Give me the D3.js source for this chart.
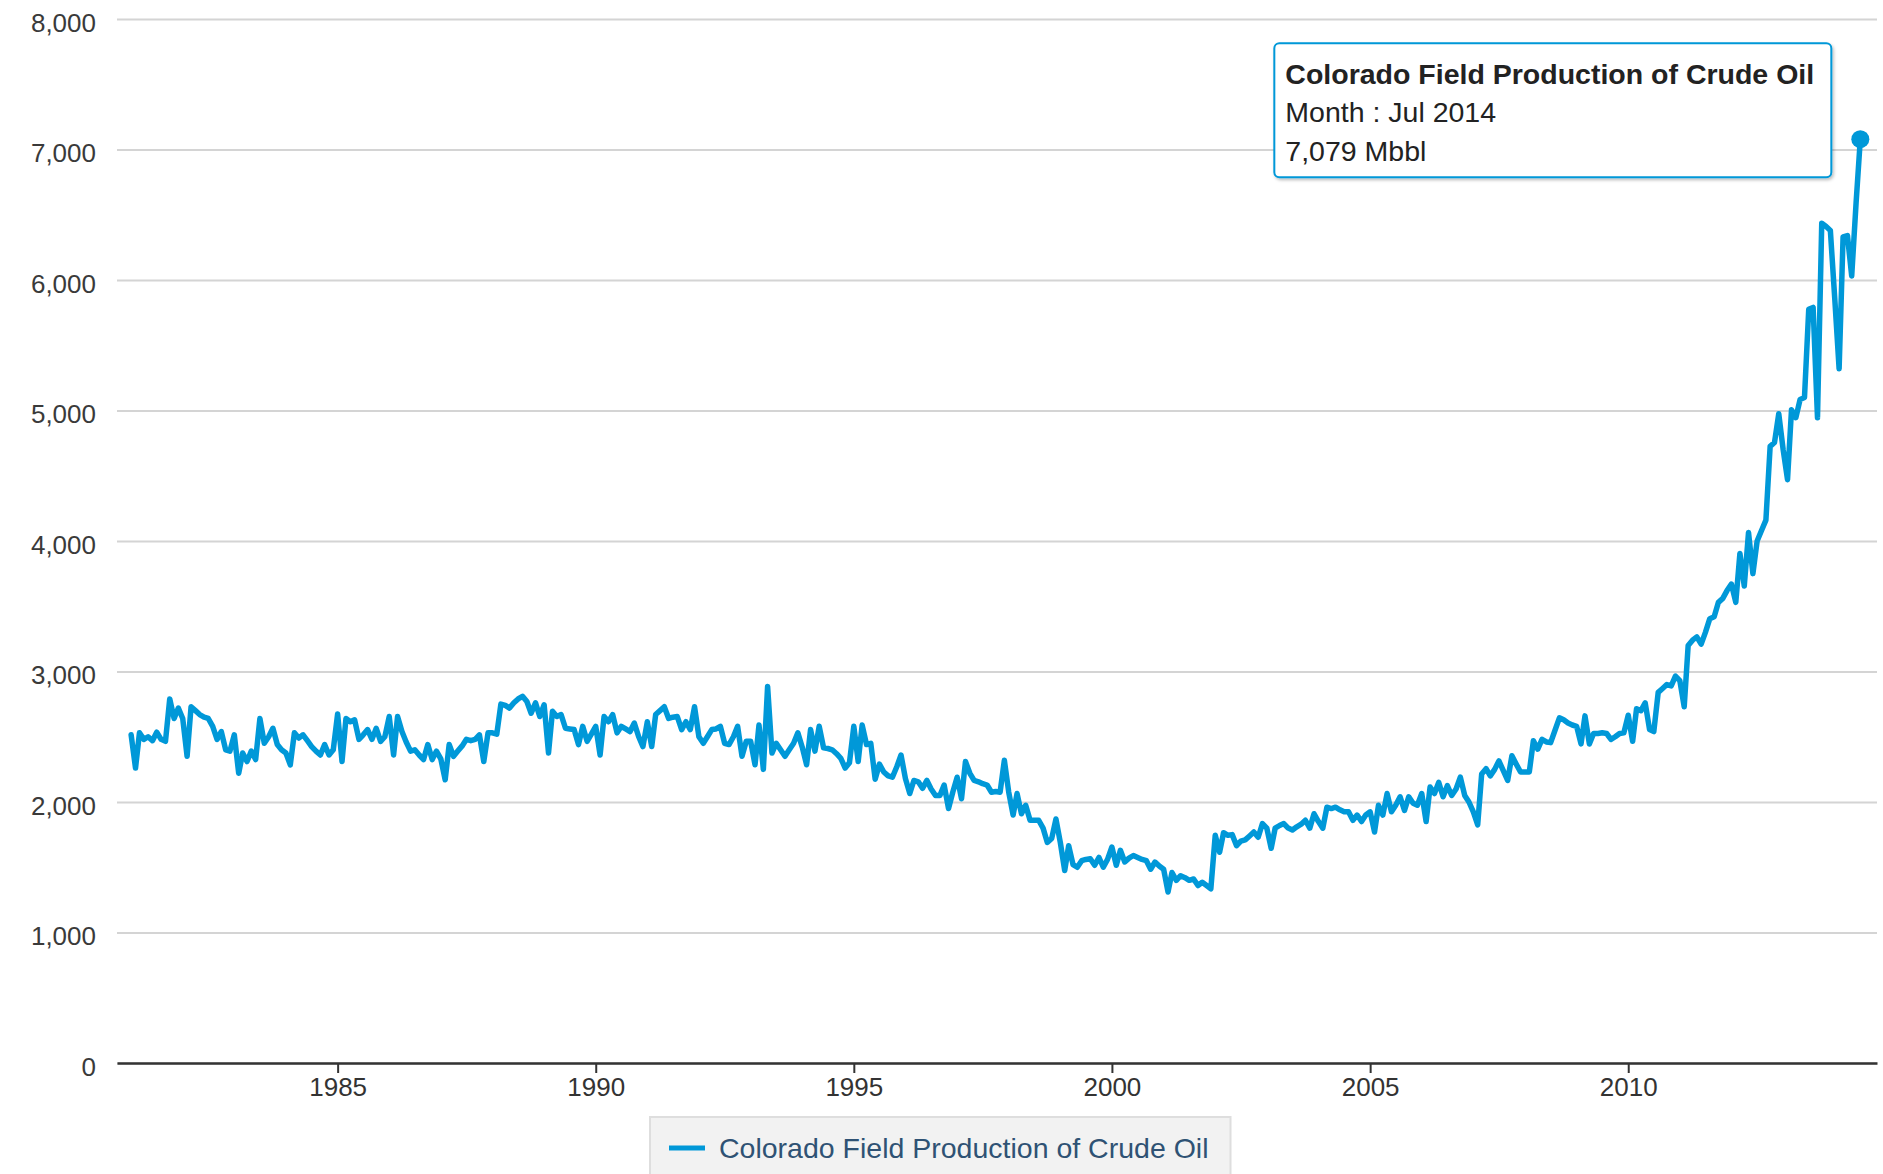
<!DOCTYPE html>
<html>
<head>
<meta charset="utf-8">
<script src="https://cdn.jsdelivr.net/npm/d3@7"></script>
<style>
  html, body { margin: 0; padding: 0; background: #fff; }
  svg { display: block; font-family: "Liberation Sans", Arial, sans-serif; }
</style>
</head>
<body>
<div id="chart"></div>
<script>
// Colorado field production of crude oil, monthly, thousand barrels (Mbbl)
const seriesName = "Colorado Field Production of Crude Oil";
const unitLabel = "Mbbl";
const firstMonth = new Date(1981, 0, 1);

const prod1980s = [
  2515, 2260, 2530, 2480, 2500, 2470, 2535, 2480, 2465, 2790, 2640, 2720, // 1981
  2640, 2350, 2730, 2700, 2670, 2650, 2640, 2580, 2480, 2540, 2400, 2390, // 1982
  2515, 2220, 2375, 2310, 2390, 2325, 2640, 2450, 2500, 2565, 2440, 2400, // 1983
  2375, 2285, 2530, 2490, 2515, 2470, 2425, 2390, 2360, 2440, 2360, 2400, // 1984
  2675, 2310, 2640, 2615, 2630, 2480, 2515, 2555, 2480, 2565, 2465, 2500, // 1985
  2655, 2360, 2655, 2540, 2460, 2390, 2400, 2360, 2325, 2440, 2325, 2390, // 1986
  2330, 2170, 2440, 2350, 2390, 2430, 2480, 2470, 2480, 2515, 2310, 2530, // 1987
  2530, 2520, 2750, 2740, 2720, 2760, 2790, 2810, 2770, 2680, 2760, 2655, // 1988
  2745, 2375, 2695, 2655, 2670, 2565, 2560, 2555, 2440, 2580, 2465, 2520  // 1989
];
const prod1990s = [
  2580, 2360, 2655, 2615, 2670, 2530, 2580, 2560, 2540, 2605, 2500, 2425, // 1990
  2615, 2425, 2670, 2700, 2730, 2640, 2650, 2655, 2555, 2615, 2555, 2730, // 1991
  2500, 2450, 2500, 2555, 2560, 2580, 2450, 2440, 2500, 2580, 2350, 2465, // 1992
  2465, 2285, 2590, 2250, 2885, 2375, 2450, 2400, 2350, 2400, 2450, 2530, // 1993
  2420, 2285, 2555, 2390, 2580, 2415, 2410, 2400, 2370, 2335, 2260, 2300, // 1994
  2580, 2310, 2590, 2440, 2450, 2175, 2290, 2230, 2200, 2190, 2270, 2360, // 1995
  2180, 2065, 2165, 2155, 2105, 2165, 2100, 2050, 2050, 2130, 1950, 2075, // 1996
  2190, 2025, 2310, 2220, 2165, 2155, 2140, 2130, 2075, 2080, 2075, 2320, // 1997
  2075, 1900, 2065, 1910, 1975, 1860, 1860, 1860, 1800, 1690, 1720, 1870, // 1998
  1690, 1475, 1665, 1520, 1500, 1550, 1560, 1565, 1515, 1575, 1500, 1560  // 1999
];
const prod2000s = [
  1655, 1515, 1630, 1540, 1570, 1590, 1575, 1560, 1550, 1485, 1540, 1510, // 2000
  1485, 1310, 1460, 1400, 1435, 1420, 1400, 1410, 1360, 1385, 1360, 1335, // 2001
  1745, 1615, 1765, 1745, 1750, 1665, 1700, 1710, 1740, 1770, 1730, 1835, // 2002
  1800, 1645, 1800, 1820, 1835, 1800, 1785, 1810, 1830, 1860, 1800, 1910, // 2003
  1850, 1800, 1960, 1950, 1960, 1940, 1925, 1925, 1860, 1900, 1850, 1900, // 2004
  1925, 1770, 1975, 1900, 2065, 1925, 1975, 2040, 1935, 2040, 1990, 1975, // 2005
  2065, 1850, 2115, 2065, 2150, 2040, 2125, 2050, 2100, 2190, 2050, 2000, // 2006
  1925, 1825, 2215, 2255, 2200, 2250, 2315, 2240, 2165, 2355, 2290, 2230, // 2007
  2230, 2230, 2470, 2405, 2480, 2460, 2455, 2550, 2645, 2630, 2605, 2590, // 2008
  2580, 2445, 2660, 2445, 2525, 2525, 2530, 2525, 2480, 2500, 2525, 2530  // 2009
];
const prod2010s = [
  2665, 2465, 2715, 2700, 2760, 2555, 2540, 2840, 2870, 2900, 2890, 2965, // 2010
  2930, 2730, 3200, 3240, 3265, 3210, 3300, 3405, 3420, 3530, 3560, 3620, // 2011
  3670, 3530, 3905, 3655, 4065, 3750, 4000, 4080, 4160, 4725, 4755, 4975, // 2012
  4700, 4470, 5005, 4945, 5085, 5100, 5775, 5790, 4945, 6435, 6410, 6380, // 2013
  5860, 5320, 6330, 6340, 6030, 6590, 7079                                // 2014
];

const yTickValues = [0, 1000, 2000, 3000, 4000, 5000, 6000, 7000, 8000];
const xTickYears = [1985, 1990, 1995, 2000, 2005, 2010];

// Build the monthly series
const allValues = [].concat(prod1980s, prod1990s, prod2000s, prod2010s);
const series = allValues.map((v, i) => ({ date: d3.timeMonth.offset(firstMonth, i), value: v }));
const lastPoint = series[series.length - 1];

const width = 1883, height = 1174;
const plot = { left: 117, right: 1877, top: 19, bottom: 1063 };
const lineColor = "#0098d8";

const svg = d3.select("#chart").append("svg").attr("width", width).attr("height", height);

const defs = svg.append("defs");
const shadow = defs.append("filter").attr("id", "tipShadow").attr("x", "-10%").attr("y", "-20%").attr("width", "120%").attr("height", "150%");
shadow.append("feDropShadow").attr("dx", 1.5).attr("dy", 2).attr("stdDeviation", 1.8).attr("flood-color", "#000").attr("flood-opacity", 0.25);

const x = d3.scaleTime()
  .domain([new Date(1980, 8, 23), new Date(2014, 9, 27)])
  .range([plot.left, plot.right]);

const y = d3.scaleLinear()
  .domain([0, 8000])
  .range([plot.bottom, plot.top]);

// Gridlines + y labels
const yAxis = svg.append("g")
  .attr("transform", `translate(${plot.left},0)`)
  .call(d3.axisLeft(y).tickValues(yTickValues).tickSize(-(plot.right - plot.left)).tickPadding(21).tickFormat(d3.format(",")));
yAxis.select(".domain").remove();
yAxis.selectAll(".tick line").attr("stroke", "#d4d4d4").attr("stroke-width", 2);
yAxis.selectAll(".tick text").attr("font-size", 26).attr("fill", "#3a3a3a").attr("font-family", null).attr("dy", "0.47em");

// x axis
const xAxis = svg.append("g")
  .attr("transform", `translate(0,${plot.bottom})`)
  .call(d3.axisBottom(x).tickValues(xTickYears.map((yr) => new Date(yr, 0, 1))).tickSize(10).tickSizeOuter(0).tickPadding(5).tickFormat(d3.timeFormat("%Y")));
xAxis.select(".domain").attr("stroke", "#333").attr("stroke-width", 2.5);
xAxis.selectAll(".tick line").attr("stroke", "#333").attr("stroke-width", 2);
xAxis.selectAll(".tick text").attr("font-size", 26).attr("fill", "#333").attr("font-family", null);

// the line
const line = d3.line().x((d) => x(d.date)).y((d) => y(d.value));
svg.append("path")
  .datum(series)
  .attr("fill", "none")
  .attr("stroke", lineColor)
  .attr("stroke-width", 5.5)
  .attr("stroke-linejoin", "round")
  .attr("stroke-linecap", "round")
  .attr("d", line);

// hovered point marker
svg.append("circle")
  .attr("cx", x(lastPoint.date))
  .attr("cy", y(lastPoint.value))
  .attr("r", 9)
  .attr("fill", lineColor);

// tooltip
const tip = svg.append("g").attr("transform", `translate(${x(lastPoint.date) - 586},${y(lastPoint.value) - 96})`);
tip.append("rect")
  .attr("width", 557).attr("height", 134)
  .attr("rx", 5).attr("ry", 5)
  .attr("fill", "#fff")
  .attr("stroke", lineColor)
  .attr("stroke-width", 2)
  .attr("filter", "url(#tipShadow)");
tip.append("text").attr("x", 11).attr("y", 41).attr("font-size", 28.5).attr("font-weight", "bold").attr("fill", "#222").text(seriesName);
tip.append("text").attr("x", 11).attr("y", 79).attr("font-size", 28.5).attr("fill", "#222").text(`Month : ${d3.timeFormat("%b %Y")(lastPoint.date)}`);
tip.append("text").attr("x", 11).attr("y", 118).attr("font-size", 28.5).attr("fill", "#222").text(`${d3.format(",")(lastPoint.value)} ${unitLabel}`);

// legend
const legend = svg.append("g").attr("transform", `translate(650,1117)`);
const legendRect = legend.append("rect").attr("height", 62).attr("fill", "#f2f2f2").attr("stroke", "#dedede").attr("stroke-width", 2);
legend.append("line").attr("x1", 19).attr("x2", 55).attr("y1", 31).attr("y2", 31).attr("stroke", lineColor).attr("stroke-width", 5);
const legendText = legend.append("text").attr("x", 69).attr("y", 41).attr("font-size", 28.5).attr("fill", "#2f5274").text(seriesName);
legendRect.attr("width", 69 + legendText.node().getComputedTextLength() + 22);
</script>
</body>
</html>
